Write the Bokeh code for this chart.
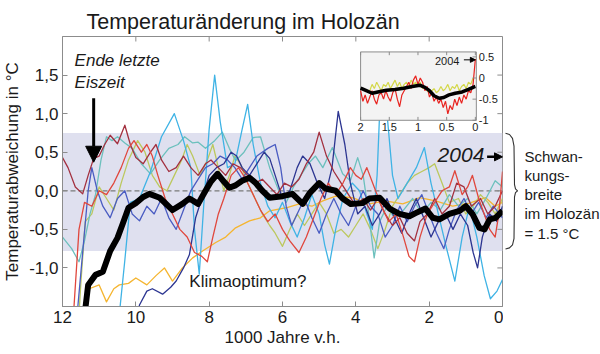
from bokeh.plotting import figure
from bokeh.layouts import row
from bokeh.models import (Range1d, FixedTicker, BoxAnnotation, Span,
                          Label, Arrow, NormalHead)
from bokeh.core.properties import value
from bokeh.embed import file_html
from bokeh.resources import INLINE

FONT = "Liberation Sans"

# ---------------- data (x = 1000 Jahre v.h., y = Abweichung in °C) ----------------
x_ticks = [0, 2, 4, 6, 8, 10, 12]
y_ticks = [-1.0, -0.5, 0.0, 0.5, 1.0, 1.5]
y_tick_labels = ["-1,0", "-0,5", "0,0", "0,5", "1,0", "1,5"]

band_low, band_high = -0.78, 0.75

sky = [(10.45, -1.6), (10.3, -0.9), (10.15, -0.15), (9.9, -0.1), (9.6, 0.25), (9.3, 0.7),
       (8.95, 1.0), (8.7, 0.65), (8.5, 0.3), (8.4, -0.5), (8.27, -1.08), (8.15, -0.2),
       (8.0, 0.8), (7.85, 1.5), (7.7, 0.9), (7.5, 0.3), (7.3, 0.35), (7.1, 0.8), (6.95, 1.12),
       (6.8, 0.6), (6.6, 0.1), (6.4, -0.2), (6.2, -0.35), (6.0, -0.15), (5.8, -0.4), (5.6, -0.6),
       (5.4, -0.35), (5.2, -0.05), (5.0, -0.3), (4.85, -0.7), (4.72, -0.95), (4.55, -0.5),
       (4.35, -0.1), (4.1, 0.1), (3.9, 0.0), (3.7, -0.3), (3.55, -0.5), (3.42, 0.2), (3.3, 1.6),
       (3.15, 1.0), (3.0, 0.2), (2.85, -0.1), (2.6, 0.1), (2.35, 0.3), (2.13, 0.56), (1.95, 0.1),
       (1.75, -0.3), (1.55, -0.7), (1.3, -1.17), (1.1, -0.6), (0.9, -0.2), (0.7, -0.6),
       (0.5, -1.1), (0.33, -1.4), (0.15, -1.3), (0.0, -1.15)]

teal = [(12.0, -0.6), (11.75, -0.75), (11.55, -0.92), (11.4, -0.65), (11.25, -0.3), (11.1, -0.05),
        (10.95, 0.4), (10.8, 0.7), (10.65, 0.65), (10.5, 0.7), (10.3, 0.62), (10.1, 0.55),
        (9.85, 0.35), (9.6, 0.22), (9.35, 0.4), (9.1, 0.55), (8.85, 0.6), (8.67, 0.7), (8.45, 0.62),
        (8.3, 0.63), (8.1, 0.55), (7.85, 0.65), (7.64, 0.76), (7.45, 0.55), (7.28, 0.39),
        (7.05, 0.5), (6.8, 0.69), (6.6, 0.7), (6.35, 0.3), (6.1, 0.0), (5.9, -0.15), (5.7, 0.05),
        (5.5, 0.2), (5.3, 0.35), (5.1, 0.45), (4.9, 0.3), (4.64, 0.56), (4.36, 0.22), (4.15, 0.13),
        (3.95, 0.43), (3.8, 0.2), (3.65, -0.3), (3.5, -0.87), (3.35, -0.4), (3.15, -0.2),
        (2.95, -0.35), (2.7, -0.25), (2.45, -0.1), (2.2, -0.3), (1.95, -0.15), (1.7, -0.25),
        (1.45, -0.05), (1.2, -0.2), (0.95, -0.1), (0.7, -0.3), (0.45, -0.1), (0.2, 0.13), (0.0, 0.05)]

maroon = [(12.0, 0.43), (11.85, 0.3), (11.65, 0.05), (11.45, -0.04), (11.3, 0.2), (11.15, 0.42),
          (11.0, 0.45), (10.85, 0.6), (10.7, 0.72), (10.5, 0.61), (10.3, 0.85), (10.15, 0.6),
          (10.0, 0.43), (9.8, 0.35), (9.6, 0.5), (9.45, 0.6), (9.3, 0.4), (9.1, 0.25), (8.9, 0.3),
          (8.7, 0.45), (8.5, 0.3), (8.3, 0.2), (8.1, 0.35), (7.95, 0.4), (7.75, 0.3), (7.55, 0.2),
          (7.35, 0.35), (7.15, 0.3), (6.95, 0.2), (6.75, 0.1), (6.55, 0.15), (6.35, 0.05),
          (6.15, -0.05), (5.95, 0.1), (5.75, 0.05), (5.55, 0.15), (5.35, 0.35), (5.15, 0.5),
          (5.0, 0.76), (4.8, 0.45), (4.6, 0.25), (4.4, 0.1), (4.2, -0.05), (4.0, -0.2), (3.8, -0.1),
          (3.6, -0.25), (3.4, -0.1), (3.2, -0.3), (3.0, -0.45), (2.8, -0.35), (2.6, -0.55),
          (2.4, -0.65), (2.25, -0.4), (2.05, -0.3), (1.85, -0.1), (1.65, -0.3), (1.45, -0.2),
          (1.25, 0.1), (1.05, 0.05), (0.85, -0.2), (0.6, -0.1), (0.4, -0.3), (0.2, -0.2), (0.0, 0.0)]

red = [(12.0, -2.2), (11.7, -1.6), (11.55, -0.5), (11.4, -0.15), (11.2, -0.2), (11.0, 0.0),
       (10.8, -0.05), (10.6, 0.1), (10.4, 0.3), (10.2, 0.55), (10.05, 0.65), (9.85, 0.5),
       (9.7, 0.6), (9.55, 0.45), (9.4, 0.2), (9.2, -0.1), (9.0, -0.3), (8.8, -0.5), (8.6, -0.6),
       (8.4, -0.8), (8.2, -0.85), (8.05, -0.92), (7.9, -0.6), (7.75, -0.3), (7.6, -0.1),
       (7.4, 0.2), (7.2, 0.3), (7.0, 0.15), (6.8, -0.05), (6.6, -0.25), (6.4, -0.4), (6.2, -0.3),
       (6.0, -0.5), (5.8, -0.65), (5.55, -0.8), (5.35, -0.6), (5.15, -0.35), (4.95, -0.1),
       (4.75, 0.1), (4.55, -0.05), (4.35, 0.1), (4.15, 0.3), (4.0, 0.2), (3.85, 0.15), (3.7, 0.3),
       (3.5, 0.05), (3.3, -0.2), (3.1, -0.4), (2.9, -0.3), (2.7, -0.6), (2.55, -0.85),
       (2.4, -0.92), (2.25, -0.6), (2.05, -0.3), (1.85, -0.15), (1.65, 0.0), (1.45, 0.05),
       (1.3, 0.26), (1.1, -0.05), (0.95, 0.05), (0.82, 0.2), (0.65, -0.1), (0.5, -0.3),
       (0.35, -0.5), (0.2, -0.6), (0.1, -0.3), (0.0, 0.25)]

navy = [(10.1, -2.0), (9.9, -1.48), (9.7, -1.3), (9.55, -1.27), (9.27, -1.34), (9.05, -1.25),
        (8.9, -1.17), (8.7, -1.0), (8.54, -0.83), (8.37, -0.35), (8.2, -0.1), (8.0, 0.2),
        (7.8, 0.3), (7.6, 0.35), (7.4, 0.5), (7.25, 0.45), (7.1, 0.3), (6.9, 0.2), (6.7, 0.35),
        (6.5, 0.5), (6.35, 0.42), (6.2, 0.2), (6.0, -0.1), (5.8, 0.0), (5.6, 0.3), (5.45, 0.45),
        (5.25, 0.35), (5.05, 0.1), (4.85, -0.1), (4.65, 0.3), (4.48, 1.03), (4.3, 0.6), (4.15, 0.1),
        (3.95, -0.3), (3.75, -0.2), (3.55, -0.45), (3.35, -0.3), (3.15, -0.1), (2.95, -0.35),
        (2.75, -0.55), (2.55, -0.3), (2.35, -0.1), (2.15, -0.35), (1.95, -0.6), (1.75, -0.4),
        (1.55, -0.3), (1.35, -0.5), (1.15, -0.3), (0.95, -0.45), (0.8, -0.8), (0.68, -1.0),
        (0.55, -0.6), (0.35, -0.3), (0.15, -0.4), (0.0, -0.2)]

royal = [(12.0, -2.0), (11.6, -1.6), (11.45, -0.8), (11.3, 0.0), (11.2, 0.3), (11.05, 0.0),
         (10.9, -0.2), (10.7, -0.35), (10.5, -0.1), (10.3, 0.0), (10.1, -0.3), (9.9, -0.39),
         (9.7, -0.2), (9.5, -0.3), (9.3, -0.1), (9.1, -0.35), (8.9, -0.5), (8.7, -0.25), (8.5, 0.0),
         (8.3, 0.15), (8.1, 0.3), (7.9, 0.35), (7.7, 0.45), (7.5, 0.4), (7.3, 0.3), (7.1, 0.15),
         (6.9, 0.3), (6.7, 0.45), (6.4, 0.55), (6.2, 0.6), (6.05, 0.3), (5.9, -0.2), (5.75, -0.45),
         (5.6, -0.3), (5.4, -0.1), (5.2, -0.35), (5.0, -0.55), (4.8, -0.3), (4.6, -0.1), (4.4, -0.3),
         (4.2, -0.45), (4.0, -0.2), (3.8, 0.0), (3.6, -0.2), (3.4, -0.3), (3.2, -0.6), (3.0, -0.45),
         (2.8, -0.2), (2.6, -0.4), (2.4, -0.2), (2.2, -0.05), (2.0, -0.3), (1.8, -0.55),
         (1.6, -0.75), (1.45, -0.5), (1.25, -0.25), (1.05, -0.1), (0.85, -0.3), (0.65, -0.15),
         (0.45, -0.35), (0.25, -0.2), (0.0, -0.35)]

ygreen = [(11.6, -2.0), (11.5, -1.2), (11.38, -0.4), (11.2, -0.3), (11.0, 0.05), (10.8, -0.1),
          (10.6, -0.25), (10.4, 0.1), (10.2, 0.4), (9.95, 0.65), (9.75, 0.5), (9.55, 0.2),
          (9.35, 0.05), (9.15, 0.0), (8.95, 0.2), (8.75, 0.4), (8.6, 0.6), (8.45, 0.45), (8.25, 0.2),
          (8.05, 0.4), (7.9, 0.6), (7.75, 0.3), (7.6, 0.0), (7.45, 0.2), (7.3, 0.45), (7.15, 0.35),
          (6.95, 0.1), (6.75, -0.1), (6.55, -0.3), (6.35, -0.45), (6.2, -0.55), (6.0, -0.72),
          (5.8, -0.5), (5.6, -0.3), (5.4, -0.45), (5.2, -0.3), (5.0, -0.15), (4.8, -0.3),
          (4.6, -0.55), (4.4, -0.5), (4.2, -0.6), (4.0, -0.45), (3.8, -0.3), (3.6, -0.5),
          (3.4, -0.75), (3.2, -0.5), (3.0, -0.2), (2.8, -0.05), (2.6, 0.1), (2.4, 0.2), (2.2, 0.25),
          (2.0, 0.3), (1.85, 0.35), (1.65, 0.1), (1.45, -0.15), (1.2, -0.1), (1.0, -0.3),
          (0.8, -0.2), (0.6, -0.05), (0.4, -0.15), (0.2, -0.3), (0.0, -0.1)]

orange = [(11.45, -2.0), (11.35, -1.5), (11.27, -1.27), (11.0, -1.22), (10.8, -1.44), (10.6, -1.27),
          (10.45, -1.22), (10.2, -1.2), (10.0, -1.13), (9.7, -1.22), (9.45, -1.1), (9.22, -1.0),
          (9.0, -1.17), (8.73, -1.0), (8.45, -0.87), (8.18, -0.78), (7.82, -0.67), (7.55, -0.6),
          (7.28, -0.48), (6.9, -0.39), (6.6, -0.35), (6.35, -0.26), (5.9, -0.22), (5.54, -0.17),
          (5.2, -0.2), (4.9, -0.13), (4.55, -0.07), (4.1, -0.09), (3.63, -0.17), (3.2, -0.13),
          (2.72, -0.17), (2.26, -0.09), (1.83, -0.13), (1.36, -0.2), (0.9, -0.16), (0.46, -0.09),
          (0.2, -0.2), (0.0, -0.15)]

black = [(12.0, -2.2), (11.75, -1.95), (11.5, -1.7), (11.37, -1.5), (11.3, -1.22), (11.1, -1.09),
         (10.9, -1.05), (10.7, -0.78), (10.5, -0.61), (10.36, -0.43), (10.2, -0.22), (10.0, -0.16),
         (9.8, -0.08), (9.63, -0.04), (9.35, -0.09), (9.0, -0.25), (8.73, -0.17), (8.54, -0.10),
         (8.3, -0.17), (8.1, 0.0), (7.95, 0.12), (7.77, 0.22), (7.6, 0.12), (7.45, 0.04),
         (7.28, 0.07), (7.1, 0.13), (6.9, 0.17), (6.73, 0.10), (6.55, 0.0), (6.35, -0.09),
         (6.0, -0.07), (5.73, -0.04), (5.45, -0.17), (5.26, -0.03), (5.0, 0.10), (4.83, 0.03),
         (4.55, 0.0), (4.36, -0.1), (4.14, -0.17), (3.82, -0.16), (3.63, -0.1), (3.35, -0.09),
         (3.08, -0.23), (2.81, -0.30), (2.54, -0.33), (2.37, -0.29), (2.1, -0.23), (1.9, -0.35),
         (1.72, -0.37), (1.45, -0.30), (1.17, -0.26), (1.0, -0.2), (0.82, -0.30), (0.63, -0.48),
         (0.49, -0.5), (0.35, -0.37), (0.19, -0.35), (0.0, -0.26)]

# inset (last 2000 years)
inset_x_ticks = [2.0, 1.5, 1.0, 0.5, 0.0]
inset_x_labels = ["2", "1.5", "1", "0.5", "0"]
inset_y_ticks = [0.5, 0.0, -0.5, -1.0]
inset_y_labels = ["0.5", "0", "-0.5", "-1"]
inset_red = [-0.3, -0.55, -0.4, -0.6, -0.45, -0.3, -0.5, -0.62, -0.4, -0.35,
             -0.5, -0.3, -0.45, -0.55, -0.35, -0.25, -0.5, -0.68, -0.4, -0.3,
             -0.2, -0.1, -0.25, -0.05, 0.05, -0.15, 0.0, -0.1,
             -0.3, -0.2, -0.45, -0.35, -0.55, -0.45,
             -0.6, -0.5, -0.7, -0.55, -0.85, -0.65, -0.75, -0.5, -0.65, -0.45, -0.6,
             -0.4, -0.5, -0.3, -0.35, -0.15, 0.45]
inset_yellow = [-0.3, -0.15, -0.25, -0.1, -0.2, -0.3, -0.15, -0.2, -0.1, -0.25,
                -0.15, -0.05, -0.2, -0.1, -0.25, -0.15, -0.1, -0.2, -0.05, -0.15,
                -0.1, -0.2, -0.1, -0.25, -0.2, -0.3, -0.35, -0.3, -0.25, -0.35,
                -0.3, -0.2, -0.3, -0.25, -0.15, -0.3, -0.2, -0.25, -0.15, -0.3,
                -0.2, -0.15, -0.25, -0.1, -0.15, 0.0]
inset_black = [(2.0, -0.24), (1.9, -0.3), (1.8, -0.36), (1.7, -0.33), (1.55, -0.29), (1.4, -0.27),
               (1.25, -0.24), (1.1, -0.2), (0.97, -0.17), (0.88, -0.22), (0.8, -0.3), (0.72, -0.42),
               (0.63, -0.48), (0.55, -0.46), (0.46, -0.40), (0.35, -0.36), (0.23, -0.33),
               (0.12, -0.27), (0.04, -0.22), (0.0, -0.2)]

inset_red_x = [round(2.0 - 0.04 * i, 2) for i in range(len(inset_red))]
inset_yellow_x = [round(1.84 - 0.04 * i, 2) for i in range(len(inset_yellow))]

side_lines = ["Schwan-", "kungs-", "breite", "im Holozän", "= 1.5 °C"]
side_y = [0.444, 0.196, -0.052, -0.30, -0.548]

# ---------------- main figure ----------------
X0, X1, Y0, Y1 = 12.0, 0.0, -1.5, 2.0
p = figure(frame_width=440, frame_height=270, output_backend="svg", toolbar_location=None,
           x_range=Range1d(X0, X1), y_range=Range1d(Y0, Y1),
           min_border_left=60, min_border_right=1, min_border_top=36, min_border_bottom=48)
p.background_fill_color = "white"
p.border_fill_color = "white"
p.outline_line_color = "#8c8c8c"
p.xgrid.visible = False
p.ygrid.visible = False

p.title.text = "Temperaturänderung im Holozän"
p.title.text_font = FONT
p.title.text_font_size = "21.5px"
p.title.text_font_style = "normal"
p.title.text_color = "#1a1a1a"
p.title.align = "left"
p.title.offset = 24
p.title.standoff = 6

# inset coordinate system placed inside the main frame
p.extra_x_ranges = {"ix": Range1d(7.195, -0.473)}
p.extra_y_ranges = {"iy": Range1d(-5.405, 0.982)}


def style_axis(ax):
    ax.axis_line_color = "#8c8c8c"
    ax.major_tick_line_color = "#8c8c8c"
    ax.minor_tick_line_color = None
    ax.major_tick_in = 5
    ax.major_tick_out = 0
    ax.major_label_text_font = FONT
    ax.major_label_text_font_size = "17px"
    ax.major_label_text_color = "#1a1a1a"
    ax.major_label_standoff = 4
    ax.axis_label_text_font = FONT
    ax.axis_label_text_font_size = "17px"
    ax.axis_label_text_font_style = "normal"
    ax.axis_label_text_color = "#1a1a1a"


xa = p.xaxis[0]
xa.ticker = FixedTicker(ticks=x_ticks)
xa.axis_label = "1000 Jahre v.h."
xa.axis_label_standoff = 2
style_axis(xa)

ya = p.yaxis[0]
ya.ticker = FixedTicker(ticks=y_ticks)
ya.major_label_overrides = {t: s for t, s in zip(y_ticks, y_tick_labels)}
ya.axis_label = "Temperaturabweichung in °C"
ya.axis_label_standoff = 4
style_axis(ya)

# inward ticks on top and right frame edges
n_x, n_y = len(x_ticks), len(y_ticks)
p.segment(x0=x_ticks, y0=[Y1] * n_x, x1=x_ticks, y1=[Y1 - 0.065] * n_x, line_color="#8c8c8c")
p.segment(x0=[X1] * n_y, y0=y_ticks, x1=[X1 + 0.14] * n_y, y1=y_ticks, line_color="#8c8c8c")

# band of Holocene variability and zero line
p.add_layout(BoxAnnotation(bottom=band_low, top=band_high, fill_color="#dfe0ef", fill_alpha=1.0,
                           line_color=None, level="underlay"))
p.add_layout(Span(location=0, dimension="width", line_color="#7a7a7a", line_dash="5 3",
                  line_width=1.3, level="underlay"))

series = [(orange, "#f5b530"), (ygreen, "#bcc85e"), (teal, "#6cc0bd"), (sky, "#3fb3e5"),
          (royal, "#4a5cc2"), (navy, "#2c3591"), (maroon, "#a3303f"), (red, "#e0473d")]
for data, color in series:
    xs, ys = zip(*data)
    p.line(list(xs), list(ys), line_color=color, line_width=1.3, line_join="round")

bx, by = zip(*black)
p.line(list(bx), list(by), line_color="black", line_width=6, line_join="round")

# ---------------- inset ----------------
p.quad(left=[2.0], right=[-0.017], bottom=[-1.0], top=[0.617], fill_color="#f3f3f3",
       line_color="#8c8c8c", line_width=1, x_range_name="ix", y_range_name="iy")
p.line(inset_yellow_x, inset_yellow, line_color="#d4d84a", line_width=1.2,
       x_range_name="ix", y_range_name="iy")
p.line(inset_red_x, inset_red, line_color="#e8231f", line_width=1.2,
       x_range_name="ix", y_range_name="iy")
ibx, iby = zip(*inset_black)
p.line(list(ibx), list(iby), line_color="black", line_width=3.5, line_join="round",
       x_range_name="ix", y_range_name="iy")
p.segment(x0=inset_x_ticks, y0=[-1.0] * 5, x1=inset_x_ticks, y1=[-0.92] * 5,
          line_color="#8c8c8c", x_range_name="ix", y_range_name="iy")
p.segment(x0=inset_x_ticks, y0=[0.617] * 5, x1=inset_x_ticks, y1=[0.54] * 5,
          line_color="#8c8c8c", x_range_name="ix", y_range_name="iy")
p.segment(x0=[-0.017] * 4, y0=inset_y_ticks, x1=[0.05] * 4, y1=inset_y_ticks,
          line_color="#8c8c8c", x_range_name="ix", y_range_name="iy")
p.text(x=inset_x_ticks, y=[-1.07] * 5, text=inset_x_labels, text_font=value(FONT),
       text_font_size=value("11px"), text_align="center", text_baseline="top",
       text_color="#1a1a1a", x_range_name="ix", y_range_name="iy")
p.text(x=[-0.06] * 4, y=inset_y_ticks, text=inset_y_labels, text_font=value(FONT),
       text_font_size=value("11px"), text_align="left", text_baseline="middle",
       text_color="#1a1a1a", x_range_name="ix", y_range_name="iy")
p.add_layout(Label(x=0.49, y=0.40, text="2004", x_range_name="ix", y_range_name="iy",
                   text_font=FONT, text_font_size="11px", text_align="center",
                   text_baseline="middle", text_color="#1a1a1a"))
p.add_layout(Arrow(end=NormalHead(size=5, fill_color="black", line_color="black"),
                   x_start=0.2, y_start=0.43, x_end=0.0, y_end=0.43, line_width=1,
                   x_range_name="ix", y_range_name="iy"))

# ---------------- annotations ----------------
p.add_layout(Label(x=11.67, y=1.684, text="Ende letzte", text_font=FONT, text_font_size="17px",
                   text_font_style="italic", text_baseline="middle", text_color="#1a1a1a"))
p.add_layout(Label(x=11.67, y=1.41, text="Eiszeit", text_font=FONT, text_font_size="17px",
                   text_font_style="italic", text_baseline="middle", text_color="#1a1a1a"))
p.add_layout(Arrow(end=NormalHead(size=16, fill_color="black", line_color="black"),
                   x_start=11.15, y_start=1.2, x_end=11.15, y_end=0.37, line_width=3,
                   line_color="black"))
p.add_layout(Label(x=8.54, y=-1.17, text="Klimaoptimum?", text_font=FONT, text_font_size="17px",
                   text_baseline="middle", text_color="#1a1a1a"))
p.add_layout(Label(x=1.77, y=0.47, text="2004", text_font=FONT, text_font_size="21px",
                   text_font_style="italic", text_baseline="middle", text_color="#1a1a1a"))
p.add_layout(Arrow(end=NormalHead(size=8, fill_color="black", line_color="black"),
                   x_start=0.42, y_start=0.44, x_end=0.0, y_end=0.44, line_width=2.5,
                   line_color="black"))

# ---------------- side panel: brace + explanation ----------------
s = figure(frame_width=99, frame_height=270, output_backend="svg", toolbar_location=None,
           x_range=Range1d(0, 99), y_range=Range1d(Y0, Y1),
           min_border_left=0, min_border_right=0, min_border_top=36, min_border_bottom=48)
s.axis.visible = False
s.grid.visible = False
s.outline_line_color = None
s.background_fill_color = "white"
s.border_fill_color = "white"

# brace (horizontal offsets in px from the panel's left edge, vertical in °C)
brace_dx = [2, 6, 9, 10.5, 11, 12, 14, 12, 11, 10.5, 9, 6, 2]
brace_y = [0.745, 0.73, 0.68, 0.58, 0.08, 0.025, 0.0, -0.025, -0.08, -0.62, -0.70, -0.74, -0.755]
s.line(brace_dx, brace_y, line_color="#333333", line_width=1.1, line_join="round")
s.text(x=[21] * len(side_lines), y=side_y, text=side_lines, text_font=value(FONT),
       text_font_size=value("15px"), text_align="left", text_baseline="middle",
       text_color="#1a1a1a")

layout = row(p, s)
open("out.html", "w").write(file_html(layout, INLINE))
